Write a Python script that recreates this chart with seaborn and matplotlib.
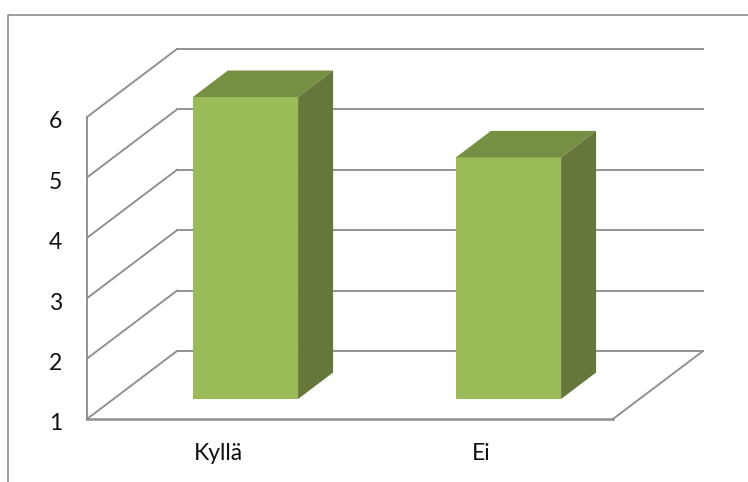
import matplotlib
matplotlib.use("Agg")
import matplotlib.pyplot as plt
from matplotlib.lines import Line2D
from matplotlib.patches import Polygon
from matplotlib.transforms import Affine2D, IdentityTransform
import seaborn as sns
import pandas as pd

categories = ["Kyllä", "Ei"]
values = [6, 5]
y_ticks = [1, 2, 3, 4, 5, 6]

W, H = 748, 482
GRID = "#8E8E8E"
FRONT, TOP, SIDE = "#9BBB59", "#778F42", "#65773A"

sns.set_theme(style="white")
plt.rcParams["font.family"] = ["Lato", "DejaVu Sans"]

fig = plt.figure(figsize=(W / 100, H / 100), dpi=100, facecolor="white")
ax = fig.add_axes([87 / W, 1 - 419 / H, (613 - 87) / W, (419 - 117) / H])
df = pd.DataFrame({"answer": categories, "value": values})
sns.barplot(data=df, x="answer", y="value", color=FRONT, saturation=1, width=0.4, ax=ax, zorder=5)
ax.set_xlim(-0.5, 1.5)
ax.set_ylim(1, 6)
ax.set_yticks(y_ticks)
ax.set_xlabel("")
ax.set_ylabel("")
for s in ax.spines.values():
    s.set_visible(False)
ax.tick_params(axis="both", length=0, labelsize=16.5, labelcolor="#111111")
ax.tick_params(axis="x", pad=17)
ax.tick_params(axis="y", pad=18)
for lab in ax.get_yticklabels():
    lab.set_transform(lab.get_transform() + Affine2D().translate(0, -3))

# depth offsets in pixels (display y is upward)
wall = (90, 68)
bar_shift = (27, 20)
depth = (35, 26.5)
ident = IdentityTransform()


def disp(x, y, off=(0, 0)):
    px, py = ax.transData.transform((x, y))
    return px + off[0], py + off[1]


def seg(a, b, lw=1.35):
    ax.add_line(Line2D([a[0], b[0]], [a[1], b[1]], transform=ident, color=GRID, lw=lw,
                       clip_on=False, zorder=1, solid_capstyle="projecting"))


x0, x1 = ax.get_xlim()
for t in y_ticks:
    seg(disp(x0, t), disp(x0, t, wall))
    seg(disp(x0, t, wall), disp(x1, t, wall))
seg(disp(x0, 1), disp(x0, 6))
seg(disp(x0, 1), disp(x1, 1), lw=1.8)
seg(disp(x1, 1), disp(x1, 1, wall))

shift = Affine2D().translate(*bar_shift)
for patch, v in zip(ax.patches, values):
    left, w = patch.get_x(), patch.get_width()
    patch.set_y(1)
    patch.set_height(v - 1)
    patch.set_transform(ax.transData + shift)
    patch.set_clip_on(False)
    patch.set_linewidth(0)
    a = disp(left, v, bar_shift)
    b = disp(left + w, v, bar_shift)
    c = disp(left + w, 1, bar_shift)
    ad = (a[0] + depth[0], a[1] + depth[1])
    bd = (b[0] + depth[0], b[1] + depth[1])
    cd = (c[0] + depth[0], c[1] + depth[1])
    ax.add_patch(Polygon([a, b, bd, ad], closed=True, transform=ident, facecolor=TOP, lw=0,
                         clip_on=False, zorder=5))
    ax.add_patch(Polygon([b, c, cd, bd], closed=True, transform=ident, facecolor=SIDE, lw=0,
                         clip_on=False, zorder=5))

# chart-area frame, cropped at the right and bottom of the picture
fy = 1 - 14.5 / H
fx = 8 / W
fig.add_artist(Line2D([fx, fx, 1], [0, fy, fy], transform=fig.transFigure, color="#8C8C8C", lw=1.2))

fig.savefig("out.png", dpi=100, facecolor="white")
